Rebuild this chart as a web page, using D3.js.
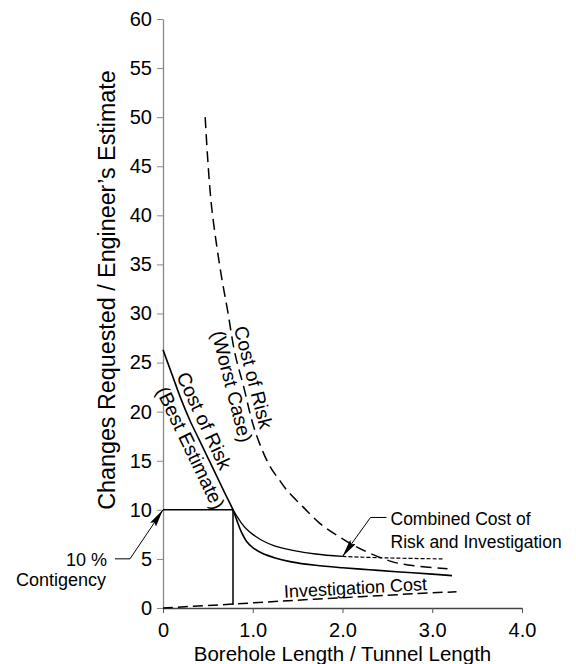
<!DOCTYPE html>
<html>
<head>
<meta charset="utf-8">
<script src="https://cdn.jsdelivr.net/npm/d3@7"></script>
<style>
  body { margin: 0; background: #fff; }
  svg { display: block; font-family: "Liberation Sans", Arial, sans-serif; }
</style>
</head>
<body>
<div id="chart"></div>
<script>
// Axis ticks
const xTicks = [0, 1, 2, 3, 4];
const xTickLabels = ['0', '1.0', '2.0', '3.0', '4.0'];
const yTicks = [0, 5, 10, 15, 20, 25, 30, 35, 40, 45, 50, 55, 60];

// Cost of risk, best estimate (solid)
const bestX = [0, 0.1, 0.2, 0.3, 0.4, 0.5, 0.6, 0.7, 0.78, 0.82, 0.87, 0.93, 1.0, 1.1, 1.25, 1.43, 1.7, 2.0, 2.3, 2.6, 3.0, 3.22];
const bestY = [26.3, 23.8, 21.3, 19.1, 17.2, 15.3, 13.4, 11.5, 10.0, 9.0, 7.8, 6.8, 6.15, 5.6, 5.1, 4.7, 4.35, 4.1, 3.9, 3.7, 3.45, 3.3];

// Cost of risk, worst case (long dashes)
const worstX = [0.47, 0.5, 0.54, 0.6, 0.66, 0.72, 0.8, 0.9, 1.0, 1.1, 1.2, 1.3, 1.38, 1.56, 1.75, 1.94, 2.12, 2.3, 2.56, 2.8, 3.17];
const worstY = [50, 45.5, 41, 36.8, 33.3, 30.3, 26.0, 22.5, 18.8, 16.2, 14.3, 13.0, 12.0, 10.3, 8.6, 7.4, 6.4, 5.6, 4.7, 4.3, 4.0];

// Combined cost of risk and investigation (solid, then fine dashes past combinedSplit)
const combinedX = [0.78, 0.82, 0.87, 0.93, 1.0, 1.1, 1.25, 1.43, 1.7, 2.0, 2.5, 3.12];
const combinedY = [10.0, 9.4, 8.7, 8.05, 7.5, 6.9, 6.3, 5.9, 5.5, 5.25, 5.1, 5.0];
const combinedSplit = 2.0;

// Investigation cost (dashes)
const investX = [0, 0.78, 1.5, 2.2, 2.8, 3.27];
const investY = [0, 0.4, 0.8, 1.15, 1.45, 1.66];

// Contingency box
const contingency = 10;
const optimumX = 0.78;
const optimumFloor = 0.3;

const width = 576, height = 664;

const svg = d3.select('#chart').append('svg')
  .attr('width', width)
  .attr('height', height);

const x = d3.scaleLinear().domain([0, 4]).range([163, 522]);
const y = d3.scaleLinear().domain([0, 60]).range([608, 19]);

const zip = (xs, ys) => xs.map((v, i) => [v, ys[i]]);
const line = d3.line().x(d => x(d[0])).y(d => y(d[1])).curve(d3.curveCatmullRom.alpha(0.5));

function interp(xs, ys, v) {
  for (let i = 1; i < xs.length; i++) {
    if (v <= xs[i]) {
      const t = (v - xs[i - 1]) / (xs[i] - xs[i - 1]);
      return ys[i - 1] + t * (ys[i] - ys[i - 1]);
    }
  }
  return ys[ys.length - 1];
}

function angleAt(xs, ys, v, h) {
  const a = [x(v - h), y(interp(xs, ys, v - h))];
  const b = [x(v + h), y(interp(xs, ys, v + h))];
  return Math.atan2(b[1] - a[1], b[0] - a[0]) * 180 / Math.PI;
}

// arrow marker
svg.append('defs').append('marker')
  .attr('id', 'arrow')
  .attr('viewBox', '0 0 18 7')
  .attr('refX', 18)
  .attr('refY', 3.5)
  .attr('markerWidth', 18)
  .attr('markerHeight', 7)
  .attr('markerUnits', 'userSpaceOnUse')
  .attr('orient', 'auto')
  .append('path')
  .attr('d', 'M0,0 L18,3.5 L0,7 L3,3.5 Z')
  .attr('fill', '#000');

// Axes
const xAxis = svg.append('g')
  .attr('transform', `translate(0,${y(0)})`)
  .call(d3.axisBottom(x).tickValues(xTicks).tickFormat((d, i) => xTickLabels[i])
    .tickSize(5).tickSizeOuter(0).tickPadding(10));
xAxis.select('.domain').attr('stroke', '#444').attr('stroke-width', 1.3);
xAxis.selectAll('.tick line').attr('stroke', '#555');
xAxis.selectAll('text').attr('font-size', '20px').attr('fill', '#000').attr('font-family', null);

const yAxis = svg.append('g')
  .attr('transform', `translate(${x(0)},0)`)
  .call(d3.axisLeft(y).tickValues(yTicks).tickSize(6).tickSizeOuter(0).tickPadding(5));
yAxis.select('.domain').attr('stroke', '#888').attr('stroke-width', 1.3);
yAxis.selectAll('.tick line').attr('stroke', '#888');
yAxis.selectAll('text').attr('font-size', '20px').attr('fill', '#000').attr('font-family', null);

// Axis titles
svg.append('text')
  .attr('x', x(2))
  .attr('y', 661)
  .attr('text-anchor', 'middle')
  .attr('font-size', '20.5px')
  .text('Borehole Length / Tunnel Length');

svg.append('text')
  .attr('transform', `translate(115,290) rotate(-90)`)
  .attr('text-anchor', 'middle')
  .attr('font-size', '23.3px')
  .text('Changes Requested / Engineer\u2019s Estimate');

// Contingency box
svg.append('path')
  .attr('d', `M${x(0)},${y(contingency)} H${x(optimumX)} V${y(optimumFloor)}`)
  .attr('fill', 'none')
  .attr('stroke', '#000')
  .attr('stroke-width', 1.5);

// Curves
svg.append('path')
  .attr('d', line(zip(investX, investY)))
  .attr('fill', 'none').attr('stroke', '#000').attr('stroke-width', 1.5)
  .attr('stroke-dasharray', '10,5');

svg.append('path')
  .attr('d', line(zip(worstX, worstY)))
  .attr('fill', 'none').attr('stroke', '#000').attr('stroke-width', 1.5)
  .attr('stroke-dasharray', '11,6');

svg.append('path')
  .attr('d', line(zip(bestX, bestY)))
  .attr('fill', 'none').attr('stroke', '#000').attr('stroke-width', 1.6);

const combined = zip(combinedX, combinedY);
svg.append('path')
  .attr('d', line(combined.filter(d => d[0] <= combinedSplit)))
  .attr('fill', 'none').attr('stroke', '#000').attr('stroke-width', 1.3);
svg.append('path')
  .attr('d', line(combined.filter(d => d[0] >= combinedSplit)))
  .attr('fill', 'none').attr('stroke', '#000').attr('stroke-width', 1.2)
  .attr('stroke-dasharray', '4,2');

// Labels along the curves
function curveLabel(xs, ys, at, dy, txt, size) {
  const ang = angleAt(xs, ys, at, 0.06);
  svg.append('text')
    .attr('transform', `translate(${x(at)},${y(interp(xs, ys, at))}) rotate(${ang})`)
    .attr('text-anchor', 'middle')
    .attr('dy', dy)
    .attr('font-size', size)
    .text(txt);
}

curveLabel(bestX, bestY, 0.33, -6, 'Cost of Risk', '19.5px');
curveLabel(bestX, bestY, 0.42, 18, '(Best Estimate)', '19.5px');
curveLabel(worstX, worstY, 0.88, -5, 'Cost of Risk', '19.5px');
curveLabel(worstX, worstY, 0.89, 18, '(Worst Case)', '19.5px');
curveLabel(investX, investY, 2.15, -3, 'Investigation Cost', '18px');

// Contingency annotation
const tipA = [x(0), y(contingency)];
const elbowA = [tipA[0] - 33, tipA[1] + 49];
svg.append('path')
  .attr('d', `M${elbowA[0] - 15},${elbowA[1]} L${elbowA[0]},${elbowA[1]} L${tipA[0]},${tipA[1]}`)
  .attr('fill', 'none').attr('stroke', '#000').attr('stroke-width', 1)
  .attr('marker-end', 'url(#arrow)');
svg.append('text')
  .attr('x', elbowA[0] - 23).attr('y', elbowA[1] + 7)
  .attr('text-anchor', 'end').attr('font-size', '18px')
  .text('10 %');
svg.append('text')
  .attr('x', elbowA[0] - 24).attr('y', elbowA[1] + 27)
  .attr('text-anchor', 'end').attr('font-size', '18px')
  .text('Contigency');

// Combined cost annotation
const tipB = [x(combinedSplit), y(interp(combinedX, combinedY, combinedSplit))];
const elbowB = [tipB[0] + 28, tipB[1] - 39];
svg.append('path')
  .attr('d', `M${elbowB[0] + 16},${elbowB[1]} L${elbowB[0]},${elbowB[1]} L${tipB[0]},${tipB[1]}`)
  .attr('fill', 'none').attr('stroke', '#000').attr('stroke-width', 1)
  .attr('marker-end', 'url(#arrow)');
svg.append('text')
  .attr('x', elbowB[0] + 20).attr('y', elbowB[1] + 8)
  .attr('font-size', '17.5px')
  .text('Combined Cost of');
svg.append('text')
  .attr('x', elbowB[0] + 20).attr('y', elbowB[1] + 31)
  .attr('font-size', '17.5px')
  .text('Risk and Investigation');
</script>
</body>
</html>
